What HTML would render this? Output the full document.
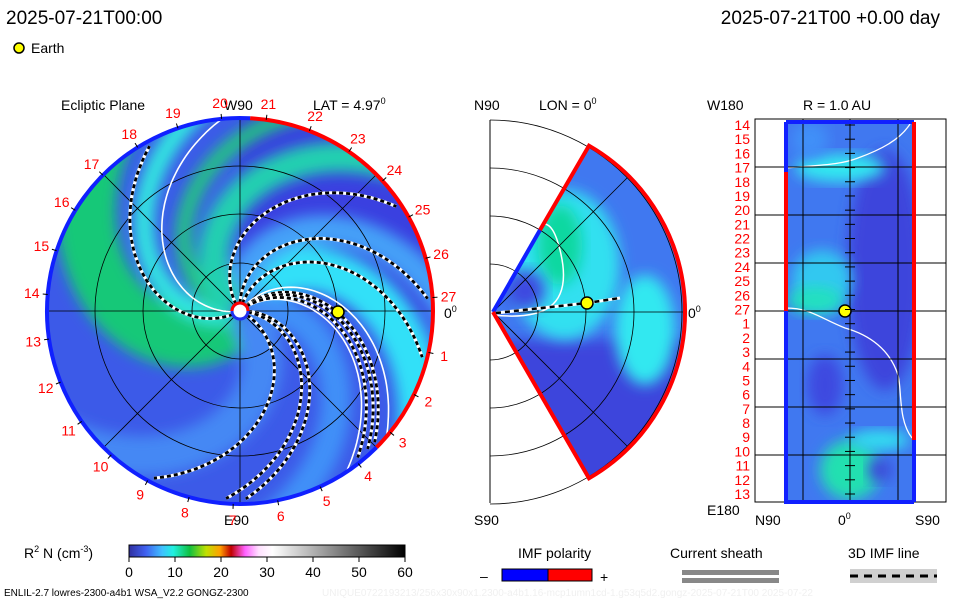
<!DOCTYPE html>
<html><head><meta charset="utf-8">
<style>
html,body{margin:0;padding:0;background:#fff;}
svg{display:block;font-family:"Liberation Sans",sans-serif;}
</style></head>
<body>
<svg id="c" width="960" height="600" viewBox="0 0 960 600" xmlns="http://www.w3.org/2000/svg">
<defs>
<filter id="bl" x="-20%" y="-20%" width="140%" height="140%"><feGaussianBlur stdDeviation="7"/></filter>
<clipPath id="mainClip"><circle cx="240" cy="311" r="193"/></clipPath>
<clipPath id="wedgeClip"><path d="M493,312 L589,145.7 A192,192 0 0 1 589,478.3 Z"/></clipPath>
<clipPath id="rectClip"><rect x="786" y="122" width="128" height="380"/></clipPath>
<linearGradient id="cbar" x1="0" x2="1" y1="0" y2="0">
<stop offset="0" stop-color="#3030a0"/><stop offset="0.06" stop-color="#4060f0"/><stop offset="0.12" stop-color="#40c0ff"/><stop offset="0.16" stop-color="#20f0e0"/><stop offset="0.22" stop-color="#10c040"/><stop offset="0.28" stop-color="#c0e000"/><stop offset="0.33" stop-color="#ffa000"/><stop offset="0.37" stop-color="#c00000"/><stop offset="0.42" stop-color="#ff60ff"/><stop offset="0.47" stop-color="#ffe0ff"/><stop offset="0.52" stop-color="#ffffff"/><stop offset="1" stop-color="#000000"/>
</linearGradient>
</defs>

<text x="6" y="24" font-size="19">2025-07-21T00:00</text>
<text x="940" y="24" font-size="19" text-anchor="end">2025-07-21T00 +0.00 day</text>
<circle cx="19" cy="48" r="5" fill="#ffff00" stroke="#000" stroke-width="1.5"/>
<text x="31" y="53" font-size="14">Earth</text>

<text x="61" y="110" font-size="14">Ecliptic Plane</text>
<text x="224" y="110" font-size="14">W90</text>
<text x="313" y="110" font-size="14">LAT = 4.97<tspan font-size="9" dy="-6">0</tspan></text>
<text x="224" y="525" font-size="14">E90</text>
<text x="444" y="318" font-size="14">0<tspan font-size="9" dy="-6">0</tspan></text>

<g id="mainPanel">
<g clip-path="url(#mainClip)">
<circle cx="240" cy="311" r="193" fill="#3c5ae8"/>
<path d="M240,311 L433,311 A193,193 0 0 0 376,175 A193,193 0 0 0 240,118 Z" fill="#3a40e0"/>
<g id="bands" filter="url(#bl)"></g>
<g id="mainGrid"></g>
<g id="mainLines"></g>
</g>
<g id="mainBorder"></g>
<circle cx="240" cy="311" r="8" fill="#fff" stroke="#2030f0" stroke-width="3"/>
<path d="M232,311 A8,8 0 0 1 248,311" fill="none" stroke="#f00" stroke-width="3"/>
<circle id="earthMain" cx="338" cy="312" r="6" fill="#ffff00" stroke="#000" stroke-width="1.5"/>
<g id="mainLabels"></g>
</g>

<text x="474" y="110" font-size="14">N90</text>
<text x="539" y="110" font-size="14">LON = 0<tspan font-size="9" dy="-6">0</tspan></text>
<text x="474" y="525" font-size="14">S90</text>
<text x="688" y="318" font-size="14">0<tspan font-size="9" dy="-6">0</tspan></text>
<g id="midPanel">
<g clip-path="url(#wedgeClip)">
<rect x="480" y="140" width="210" height="345" fill="#4078f0"/>
<rect x="480" y="340" width="210" height="150" fill="#3c44dc" filter="url(#bl)"/>
<ellipse cx="565" cy="265" rx="55" ry="75" fill="#30e0f0" filter="url(#bl)"/>
<ellipse cx="560" cy="245" rx="22" ry="40" fill="#10d8a0" filter="url(#bl)"/>
<ellipse cx="645" cy="330" rx="30" ry="55" fill="#30e8f0" filter="url(#bl)"/>
<ellipse cx="525" cy="290" rx="20" ry="20" fill="#3c48e0" filter="url(#bl)"/>
<path d="M493,315 C540,320 575,310 560,250 C555,230 550,225 545,224" fill="none" stroke="#fff" stroke-width="1.5"/>
</g>
<g id="midGrid"></g>
<path d="M493,312 L540,230" stroke="#1020ff" stroke-width="4" fill="none"/>
<path d="M540,230 L589,145.7 A192,192 0 0 1 589,478.3 L493,312" stroke="#f00" stroke-width="4" fill="none"/>
<path d="M496,313 L587,303 L620,298" stroke="#fff" stroke-width="3" fill="none"/>
<path d="M496,313 L587,303 L620,298" stroke="#000" stroke-width="2.5" stroke-dasharray="5,4" fill="none"/>
<circle cx="587" cy="303" r="6" fill="#ffff00" stroke="#000" stroke-width="1.5"/>
</g>

<text x="707" y="110" font-size="14">W180</text>
<text x="803" y="110" font-size="14">R = 1.0 AU</text>
<text x="707" y="515" font-size="14">E180</text>
<text x="755" y="525" font-size="14">N90</text>
<text x="838" y="525" font-size="14">0<tspan font-size="9" dy="-6">0</tspan></text>
<text x="915" y="525" font-size="14">S90</text>
<g id="rightPanel">
<rect x="755" y="119" width="191" height="383" fill="#fff" stroke="#000" stroke-width="1"/>
<g clip-path="url(#rectClip)">
<rect x="786" y="122" width="128" height="380" fill="#4078f0"/>
<ellipse cx="885" cy="270" rx="38" ry="120" fill="#3c44dc" filter="url(#bl)"/>
<ellipse cx="825" cy="385" rx="18" ry="30" fill="#3c48e0" filter="url(#bl)"/>
<ellipse cx="822" cy="280" rx="30" ry="30" fill="#30c8f0" filter="url(#bl)"/>
<ellipse cx="815" cy="300" rx="28" ry="14" fill="#20e0c0" filter="url(#bl)"/>
<ellipse cx="840" cy="168" rx="45" ry="14" fill="#30e8f0" filter="url(#bl)"/>
<ellipse cx="810" cy="140" rx="18" ry="18" fill="#4090f8" filter="url(#bl)"/>
<ellipse cx="850" cy="470" rx="30" ry="30" fill="#20e0b0" filter="url(#bl)"/>
<ellipse cx="880" cy="440" rx="30" ry="10" fill="#30e0f0" filter="url(#bl)"/>
<ellipse cx="880" cy="470" rx="12" ry="12" fill="#3c44dc" filter="url(#bl)"/>
<path d="M786,168 C820,165 840,165 858,158 C880,150 900,140 910,124" fill="none" stroke="#fff" stroke-width="1.3"/>
<path d="M786,308 C810,308 820,318 845,328 C870,335 890,350 898,375 C902,390 898,420 912,438" fill="none" stroke="#fff" stroke-width="1.3"/>
</g>
<g id="rightGrid"></g>
<path d="M786,122 L786,172" stroke="#1020ff" stroke-width="4"/>
<path d="M786,172 L786,311" stroke="#f00" stroke-width="4"/>
<path d="M786,311 L786,502 L914,502" stroke="#1020ff" stroke-width="4" fill="none"/>
<path d="M786,122 L914,122" stroke="#1020ff" stroke-width="4"/>
<path d="M914,122 L914,440" stroke="#f00" stroke-width="4"/>
<path d="M914,440 L914,502" stroke="#1020ff" stroke-width="4"/>
<circle cx="845" cy="311" r="6" fill="#ffff00" stroke="#000" stroke-width="1.5"/>
<g id="rightLabels"></g>
</g>

<g id="legendArea">
<text x="24" y="558" font-size="14">R<tspan font-size="9" dy="-6">2</tspan><tspan dy="6"> N (cm</tspan><tspan font-size="9" dy="-6">-3</tspan><tspan dy="6">)</tspan></text>
<rect x="129" y="545" width="276" height="12" fill="url(#cbar)" stroke="#000" stroke-width="1"/>
<g id="cbarTicks"></g>
<text x="518" y="558" font-size="14">IMF polarity</text>
<text x="480" y="581" font-size="14">–</text>
<rect x="502" y="569" width="46" height="12" fill="#0000ff" stroke="#000"/>
<rect x="548" y="569" width="44" height="12" fill="#ff0000" stroke="#000"/>
<text x="600" y="582" font-size="14">+</text>
<text x="670" y="558" font-size="14">Current sheath</text>
<rect x="682" y="570" width="97" height="5" fill="#888"/>
<rect x="682" y="578" width="97" height="5" fill="#888"/>
<text x="848" y="558" font-size="14">3D IMF line</text>
<rect x="850" y="569" width="87" height="14" fill="#d0d0d0"/>
<line x1="850" y1="576" x2="937" y2="576" stroke="#000" stroke-width="3" stroke-dasharray="8,6"/>
<text x="4" y="596" font-size="10">ENLIL-2.7 lowres-2300-a4b1 WSA_V2.2 GONGZ-2300</text>
<text x="322" y="596" font-size="10" fill="#f0f0f0">UNIQUE0722193213/256x30x90x1.2300-a4b1.16-mcp1umn1cd-1.g53q5d2.gongz-2025-07-21T00   2025-07-22</text>
</g>
</svg>
<script>
const NS='http://www.w3.org/2000/svg';
// colorbar data
const cbarTickValues=[0,10,20,30,40,50,60];
const cbarMax=60;
// ecliptic angle labels
const ringLabels=[1,2,3,4,5,6,7,8,9,10,11,12,13,14,15,16,17,18,19,20,21,22,23,24,25,26,27];
// right panel row labels
const rowLabels=[14,15,16,17,18,19,20,21,22,23,24,25,26,27,1,2,3,4,5,6,7,8,9,10,11,12,13];
// spiral field line start angles (deg) for dashed IMF lines
const imfLineStarts=[151,27,-2,4,-46,-43,-39,-94,-124,-76];
// white current-sheet spirals
const sheetStarts=[172,-36,-52];
// density band spirals: start angle, width, color
const bandStarts=[125,160,188,-70,-20,40,-100,215];
const bandWidths=[60,20,16,45,30,40,30,30];
const bandColors=['#14c878','#30e8e0','#20c880','#30e0f8','#4090f8','#4488f4','#44a0f8','#20d0b0'];

const cx=240,cy=311,R=193,K=0.48;
function mk(tag,attrs,parent){const e=document.createElementNS(NS,tag);for(const k in attrs)e.setAttribute(k,attrs[k]);parent.appendChild(e);return e;}
function spiralPath(a0,rmax){let d='';for(let r=8;r<=rmax;r+=3){const a=(a0+K*r)*Math.PI/180;d+=(r===8?'M':'L')+(cx+r*Math.cos(a)).toFixed(1)+','+(cy+r*Math.sin(a)).toFixed(1);}return d;}

const bands=document.getElementById('bands');
bandStarts.forEach((a,i)=>{const p=mk('path',{d:spiralPath(a,260),fill:'none',stroke:bandColors[i],'stroke-width':bandWidths[i]},bands);

});

const g=document.getElementById('mainGrid');
[48,97,145].forEach(r=>{const c=mk('circle',{cx,cy,r,fill:'none',stroke:'#000','stroke-width':0.8},g);

});
[0,45,90,135].forEach(a=>{const t=a*Math.PI/180;const l=mk('line',{x1:cx-R*Math.cos(t),y1:cy-R*Math.sin(t),x2:cx+R*Math.cos(t),y2:cy+R*Math.sin(t),stroke:'#000','stroke-width':0.8},g);

});

const ml=document.getElementById('mainLines');
sheetStarts.forEach(a=>{const p=mk('path',{d:spiralPath(a,200),fill:'none',stroke:'#fff','stroke-width':1.6},ml);

});
imfLineStarts.forEach(a=>{const d=spiralPath(a,190);
mk('path',{d,fill:'none',stroke:'#fff','stroke-width':3.2},ml);
const p=mk('path',{d,fill:'none',stroke:'#000','stroke-width':2.8,'stroke-dasharray':'4,3'},ml);

});

const mb=document.getElementById('mainBorder');
function arc(a1,a2,col){const t1=a1*Math.PI/180,t2=a2*Math.PI/180;const large=(a2-a1)>180?1:0;
return mk('path',{d:`M${cx+R*Math.cos(t1)},${cy+R*Math.sin(t1)} A${R},${R} 0 ${large} 1 ${cx+R*Math.cos(t2)},${cy+R*Math.sin(t2)}`,fill:'none',stroke:col,'stroke-width':4},mb);}
const a1=arc(-87,45,'#f00');
const a2=arc(45,273,'#1020ff');

const lab=document.getElementById('mainLabels');
ringLabels.forEach((n,i)=>{const ang=(n===27?-4:12.4+(n-1)*13.27)*Math.PI/180;const rr=209;
const t=mk('text',{x:(cx+rr*Math.cos(ang)).toFixed(1),y:(cy+rr*Math.sin(ang)+5).toFixed(1),'font-size':14,fill:'#f00','text-anchor':'middle'},lab);
t.textContent=n;


mk('line',{x1:cx+R*Math.cos(ang),y1:cy+R*Math.sin(ang),x2:cx+(R+5)*Math.cos(ang),y2:cy+(R+5)*Math.sin(ang),stroke:'#000','stroke-width':1},lab);});

// middle grid
const mg=document.getElementById('midGrid');
const mcx=493,mcy=312;
mk('line',{x1:490,y1:120,x2:490,y2:503,stroke:'#000','stroke-width':1},mg);
[48,96,144,192].forEach(r=>{const c=mk('path',{d:`M490,${mcy-r} A${r},${r} 0 0 1 490,${mcy+r}`,fill:'none',stroke:'#000','stroke-width':0.8},mg);

});
[-45,0,45].forEach(a=>{const t=a*Math.PI/180;mk('line',{x1:mcx,y1:mcy,x2:mcx+192*Math.cos(t),y2:mcy+192*Math.sin(t),stroke:'#000','stroke-width':0.8},mg);});

// right grid
const rg=document.getElementById('rightGrid');
[167,215,263,311,359,407,455].forEach(y=>mk('line',{x1:755,y1:y,x2:946,y2:y,stroke:'#000','stroke-width':1},rg));
[803,850,898].forEach(x=>mk('line',{x1:x,y1:119,x2:x,y2:502,stroke:'#000','stroke-width':1},rg));
const rl=document.getElementById('rightLabels');
rowLabels.forEach((n,i)=>{const y=125+i*(369/26);
const t=mk('text',{x:750,y:y+5,'font-size':14,fill:'#f00','text-anchor':'end'},rl);
t.textContent=n;


mk('line',{x1:845,y1:y,x2:855,y2:y,stroke:'#000','stroke-width':1},rl);});

// colorbar ticks
const cb=document.getElementById('cbarTicks');
cbarTickValues.forEach(v=>{const x=129+v/cbarMax*276;
mk('line',{x1:x,y1:557,x2:x,y2:562,stroke:'#000'},cb);
const t=mk('text',{x,y:577,'font-size':14,'text-anchor':'middle'},cb);
t.textContent=v;

});
</script>
</body></html>
